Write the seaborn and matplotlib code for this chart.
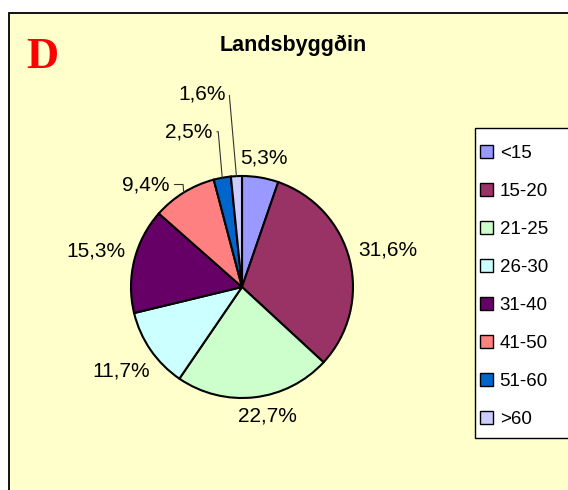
import numpy as np
import matplotlib
matplotlib.use("Agg")
import matplotlib.pyplot as plt
from matplotlib.patches import Rectangle, Patch
import seaborn as sns

sns.set_theme(style="white")
plt.rcParams["font.family"] = ["Liberation Sans", "DejaVu Sans"]
plt.rcParams["text.color"] = "black"

# data
age_groups = ["<15", "15-20", "21-25", "26-30", "31-40", "41-50", "51-60", ">60"]
shares = [5.3, 31.6, 22.7, 11.7, 15.3, 9.4, 2.5, 1.6]
colors = ["#9999FF", "#993366", "#CCFFCC", "#CCFFFF", "#660066", "#FF8080", "#0066CC", "#CCCCFF"]
title = "Landsbyggðin"
panel = "D"

W, H, DPI = 568, 490, 100
cx, cy, R = 242, 287, 111  # pie centre / radius in pixels (from top-left)

fig = plt.figure(figsize=(W / DPI, H / DPI), dpi=DPI, facecolor="white")

# yellow chart area with border (runs off the right and bottom edge)
fig.patches.append(Rectangle((9 / W, -0.1), 1.2, (H - 13) / H + 0.1, transform=fig.transFigure,
                             facecolor="#FFFFCC", edgecolor="black", linewidth=1.3, zorder=-2))
# legend box
fig.patches.append(Rectangle((475 / W, 1 - 438 / H), 0.3, (438 - 128) / H, transform=fig.transFigure,
                             facecolor="white", edgecolor="black", linewidth=1.0, zorder=-1))

ax = fig.add_axes([0, 0, 1, 1])
ax.patch.set_alpha(0)
wedges, _ = ax.pie(shares, colors=colors, startangle=90, counterclock=False,
                   wedgeprops=dict(edgecolor="black", linewidth=1.5))
ax.set_xlim(-cx / R, (W - cx) / R)
ax.set_ylim(-(H - cy) / R, cy / R)
ax.axis("off")

fig.canvas.draw()
renderer = fig.canvas.get_renderer()

label_fs = 15
small = {6: (-10, 46), 7: (-11, 82), 5: (-14, 8)}  # leader-line labels: offset in px
for i, w in enumerate(wedges):
    mid = np.deg2rad((w.theta1 + w.theta2) / 2)
    ux, uy = np.cos(mid), np.sin(mid)
    txt = f"{shares[i]:.1f}%".replace(".", ",")
    if i in small:
        dx, dy = small[i]
        ax.annotate(txt, xy=(ux, uy), xytext=(dx, dy), textcoords="offset pixels",
                    ha="right", va="center", fontsize=label_fs,
                    arrowprops=dict(arrowstyle="-", color="#333333", lw=0.8, shrinkA=1, shrinkB=0,
                                    connectionstyle="angle,angleA=0,angleB=95,rad=0"))
        continue
    t = ax.text(0, 0, txt, ha="center", va="center", fontsize=label_fs)
    bb = t.get_window_extent(renderer)
    hw, hh = bb.width / 2 / R, bb.height / 2 / R * 0.7
    r = 1.08 + hw * abs(ux) + hh * abs(uy)
    t.set_position((r * ux + (0.1 if uy < -0.9 else 0), r * uy))

fig.text(293 / W, 1 - 45 / H, title, ha="center", va="center", fontsize=15.5, fontweight="bold")
fig.text(42 / W, 1 - 57 / H, panel, ha="center", va="center", fontsize=32, fontweight="bold",
         color="red", family="Liberation Serif")

handles = [Patch(facecolor=c, edgecolor="black", linewidth=1.0) for c in colors]
fig.legend(handles, age_groups, loc="upper left", bbox_to_anchor=(480 / W, 1 - 145 / H),
           frameon=False, fontsize=13.5, handlelength=0.7, handleheight=0.7, handletextpad=0.35,
           labelspacing=1.11, borderaxespad=0, borderpad=0)

fig.savefig("out.png", dpi=DPI, facecolor="white")
